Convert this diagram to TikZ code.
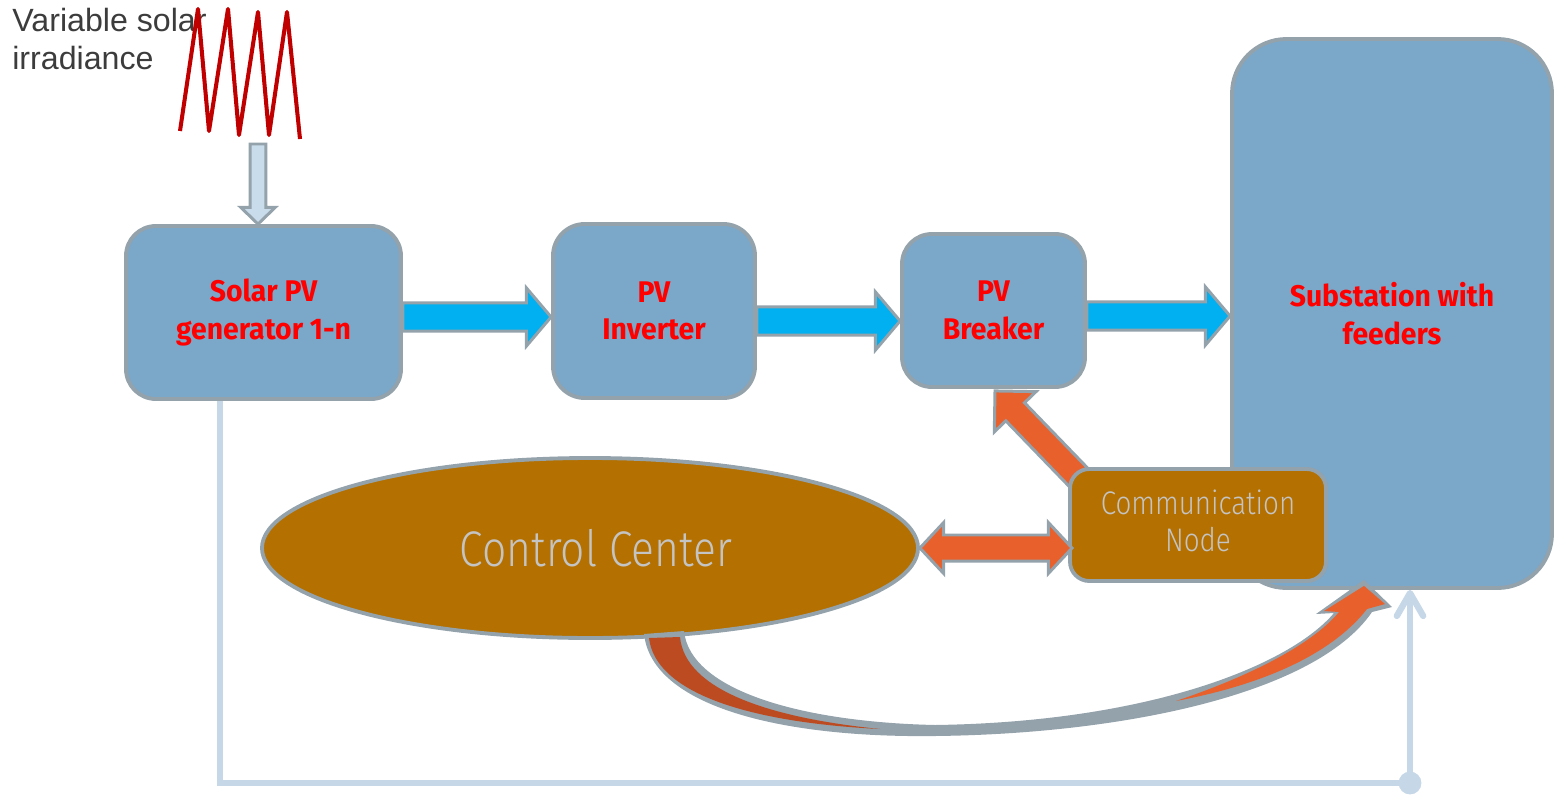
\documentclass[tikz,border=0pt]{standalone}
\usepackage{fontspec}
\setmainfont{Liberation Sans}
\newfontfamily\labelfont[FakeStretch=0.95]{Fira Sans}
\newfontfamily\thinfont[FakeStretch=0.85,UprightFont={* Light}]{Fira Sans}
\usetikzlibrary{calc,shapes.geometric,arrows.meta}
\pgfdeclarelayer{under}
\pgfsetlayers{under,main}

\definecolor{boxblue}{HTML}{7BA7C9}
\definecolor{edgegrey}{HTML}{94A2AB}
\definecolor{ccbrown}{HTML}{B47000}
\definecolor{flowblue}{HTML}{00B0F0}
\definecolor{sigorange}{HTML}{E8602C}
\definecolor{sigdark}{HTML}{BD4B22}
\definecolor{paleblue}{HTML}{C6D7E7}
\definecolor{lighttext}{HTML}{C4C4C4}
\definecolor{irrred}{HTML}{C00000}
\definecolor{captiongrey}{HTML}{3C3C3C}
\definecolor{downfill}{HTML}{C9DCEB}

% block arrow: #1 style, #2 from, #3 to, #4 shaft half width, #5 head half width, #6 head length
\newcommand\fatarrow[6]{%
  \coordinate (fas) at (#2);
  \coordinate (fae) at (#3);
  \coordinate (fan) at ($(fae)!#6!(fas)$);
  \draw[#1] ($(fas)!#4!90:(fae)$) -- ($(fan)!#4!90:(fae)$) -- ($(fan)!#5!90:(fae)$) -- (fae)
    -- ($(fan)!#5!-90:(fae)$) -- ($(fan)!#4!-90:(fae)$) -- ($(fas)!#4!-90:(fae)$) -- cycle;}
% block arrow with a head at both ends
\newcommand\fatdarrow[6]{%
  \coordinate (fas) at (#2);
  \coordinate (fae) at (#3);
  \coordinate (fan) at ($(fae)!#6!(fas)$);
  \coordinate (fam) at ($(fas)!#6!(fae)$);
  \draw[#1] (fas) -- ($(fam)!#5!90:(fae)$) -- ($(fam)!#4!90:(fae)$) -- ($(fan)!#4!90:(fae)$)
    -- ($(fan)!#5!90:(fae)$) -- (fae) -- ($(fan)!#5!-90:(fae)$) -- ($(fan)!#4!-90:(fae)$)
    -- ($(fam)!#4!-90:(fae)$) -- ($(fam)!#5!-90:(fae)$) -- cycle;}

\def\u{0.02cm}

\begin{document}
\begin{tikzpicture}[x=0.02cm, y=-0.02cm,
  blk/.style={draw=edgegrey, line width=2.2pt, fill=boxblue, rounded corners=#1,
    inner sep=0pt, text=red, align=center,
    font=\labelfont\bfseries\fontsize{17}{21.5}\selectfont},
  flowarrow/.style={fill=flowblue, draw=edgegrey, line width=1.7pt},
  sigarrow/.style={fill=sigorange, draw=edgegrey, line width=1.7pt},
  downarrow/.style={fill=downfill, draw=edgegrey, line width=1.7pt},
  feedback/.style={draw=paleblue, line width=3.6pt}]

\useasboundingbox (0,0) rectangle (1554,794);

% caption and irradiance zigzag
\node[anchor=north west, inner sep=0pt, align=left, text=captiongrey,
  font=\fontsize{18.3}{21.5}\selectfont] (caption) at (12,8) {Variable solar\\irradiance};
\draw[irrred, line width=2.3pt, line join=round]
  (180,131) -- (198,9) -- (209,131) -- (228,9) -- (239,135) -- (258,12)
  -- (269,135) -- (287,12) -- (300,139);
\coordinate (irrfoot) at (258,144);

% main blocks
\node[blk=17pt, minimum width=275*\u, minimum height=173*\u] (solar) at (263.5,312.5) {Solar PV\\generator 1-n};
\node[blk=18pt, minimum width=202*\u, minimum height=174*\u] (inverter) at (654,311) {PV\\Inverter};
\node[blk=17pt, minimum width=183*\u, minimum height=153*\u] (breaker) at (993.5,310.5) {PV\\Breaker};
\node[blk=31pt, minimum width=320*\u, minimum height=549*\u] (substation) at (1392,313.5) {Substation with\\feeders};
\node[draw=edgegrey, line width=2.2pt, fill=ccbrown, rounded corners=11pt, inner sep=0pt,
  minimum width=256*\u, minimum height=112*\u, text=lighttext, align=center,
  font=\thinfont\fontsize{18.6}{21.5}\selectfont] (comm) at (1198,525)
  {Communication\\Node\rule[-5pt]{0pt}{0pt}};
\node[ellipse, draw=edgegrey, line width=2.2pt, fill=ccbrown, inner sep=0pt,
  minimum width=656*\u, minimum height=180*\u, text=lighttext,
  font=\thinfont\fontsize{28.5}{32}\selectfont] (control) at (590,548) {\kern0.24cm Control Center};

% irradiance into the generator
\fatarrow{downarrow}{irrfoot}{irrfoot |- solar.north}{4.5pt}{9.8pt}{9.5pt}

% power flow
\coordinate (a1) at ($(solar.east)+(0,4.5)$);
\fatarrow{flowarrow}{a1}{a1 -| inverter.west}{8pt}{16.5pt}{14pt}
\coordinate (a2) at ($(inverter.east)+(0,10)$);
\fatarrow{flowarrow}{a2}{a2 -| breaker.west}{8pt}{16.5pt}{14pt}
\coordinate (a3) at ($(breaker.east)+(0,5.5)$);
\fatarrow{flowarrow}{a3}{a3 -| substation.west}{8pt}{16.5pt}{14pt}

% communication links
\begin{pgfonlayer}{under}
\coordinate (c1) at ($(comm.north west)+(14,14)$);
\coordinate (c2) at ($(breaker.south)+(1.5,2)$);
\fatarrow{sigarrow}{c1}{c2}{7.4pt}{16.5pt}{16.5pt}
\end{pgfonlayer}
\coordinate (d1) at (control.east);
\coordinate (d2) at ($(d1 -| comm.west)+(4,0)$);
\fatdarrow{sigarrow}{d1}{d2}{7.4pt}{14.5pt}{13.5pt}

% curved command arrow from the control center to the substation
\coordinate (ccfoot) at (control.308);
\coordinate (sstip) at ($(substation.south)+(-28,-10)$);
\fill[edgegrey] (644,634) .. controls (652,706) and (780,738) .. (935,736)
  .. controls (1120,734) and (1315,695) .. (1372,612) -- (1392,607) -- (sstip) -- (1316,614)
  -- (1334,613) .. controls (1290,665) and (1150,722) .. (935,725)
  .. controls (800,722) and (690,690) .. (684,631) -- cycle;
\fill[sigdark] (649,638) .. controls (655,690) and (740,722) .. (880,729)
  .. controls (770,718) and (685,690) .. (680,637) -- cycle;
\fill[sigorange] (1176,701) .. controls (1262,672) and (1316,640) .. (1339,612) -- (1324,611)
  -- ($(sstip)+(0,6)$) -- (1385,604) -- (1367,609) .. controls (1335,650) and (1272,683) .. (1176,701) -- cycle;

% measurement feedback line
\coordinate (fbstart) at ($(solar.south west)+(96,0)$);
\coordinate (fbjoin) at (1410,783);
\draw[feedback] (fbstart) |- (fbjoin);
\draw[feedback, -{Straight Barb[length=13pt, width=15pt, round]}] (fbjoin) -- (fbjoin |- substation.south);
\fill[paleblue] (fbjoin) circle[radius=6.5pt];

\end{tikzpicture}
\end{document}
